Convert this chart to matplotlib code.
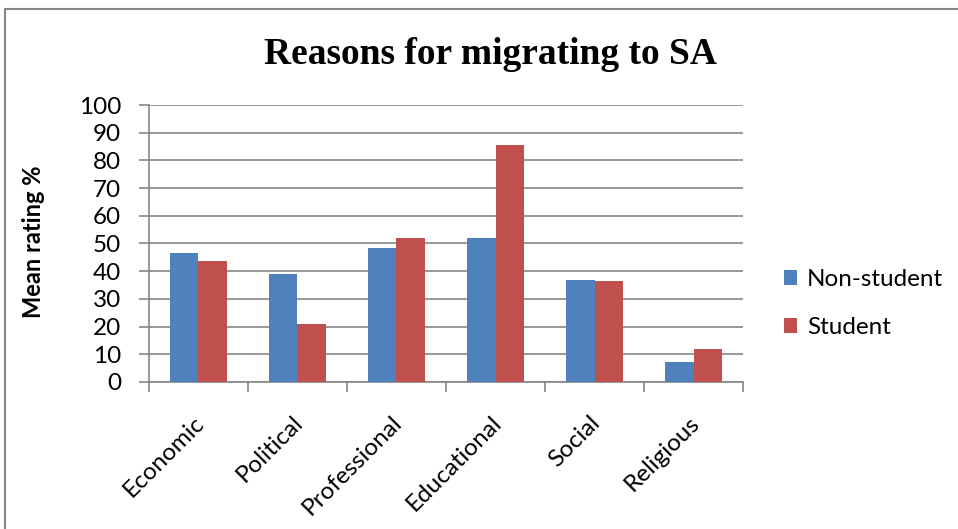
import numpy as np
import matplotlib.pyplot as plt
from matplotlib.patches import Rectangle
from matplotlib.transforms import ScaledTranslation

# =========================================================
# DATA
# =========================================================
categories = ["Economic", "Political", "Professional", "Educational", "Social", "Religious"]
non_student = [46.5, 39.1, 48.2, 51.9, 36.9, 7.3]
student = [43.7, 20.9, 52.0, 85.7, 36.4, 11.9]

BLUE = "#4F81BD"
RED = "#C0504D"
GRID = "#868686"
FONT = ["Lato", "DejaVu Sans"]
FS = 17.5

# =========================================================
# FIGURE
# =========================================================
fig = plt.figure(figsize=(9.58, 5.29), dpi=100)
ax = fig.add_axes([0.1555, 0.2779, 0.6201, 0.5236])

x = np.arange(len(categories))
bar_w = 1 / 3.5

ax.bar(x - bar_w / 2, non_student, width=bar_w, color=BLUE, label="Non-student", zorder=3)
ax.bar(x + bar_w / 2, student, width=bar_w, color=RED, label="Student", zorder=3)

ax.set_xlim(-0.5, len(categories) - 0.5)
ax.set_ylim(0, 100)
ax.set_yticks(np.arange(0, 101, 10))
ax.yaxis.grid(True, color=GRID, linewidth=1.2, zorder=0)

# tick marks sit on the category boundaries
ax.set_xticks(np.arange(-0.5, len(categories), 1.0))
ax.set_xticklabels([])
ax.tick_params(axis="x", direction="out", length=7, color=GRID, width=1.2)

# rotated category names, right end near each category centre
shift = ScaledTranslation(-5 / 100, -30 / 100, fig.dpi_scale_trans)
for xi, name in zip(x, categories):
    ax.text(xi, 0, name, transform=ax.get_xaxis_transform() + shift,
            rotation=45, rotation_mode="anchor", ha="right", va="top",
            fontsize=FS, family=FONT)

ax.tick_params(axis="y", direction="out", length=7, color=GRID, width=1.2,
               labelsize=FS, pad=13)
for lab in ax.get_yticklabels():
    lab.set_family(FONT)

for side in ["top", "right"]:
    ax.spines[side].set_visible(False)
for side in ["left", "bottom"]:
    ax.spines[side].set_color(GRID)
    ax.spines[side].set_linewidth(1.2)

fig.text(34 / 958, 1 - 242 / 529, "Mean rating %", rotation=90, ha="center", va="center",
         fontsize=17, fontweight="bold", family=FONT)

fig.text(490 / 958, 1 - 54 / 529, "Reasons for migrating to SA", ha="center", va="center",
         fontsize=27, fontweight="bold", family="Liberation Serif")

ax.legend(loc="center left", bbox_to_anchor=(784 / 958, 1 - 303.5 / 529),
          bbox_transform=fig.transFigure, frameon=False, borderpad=0, borderaxespad=0,
          prop={"family": FONT, "size": FS}, handlelength=0.55, handleheight=0.55,
          labelspacing=1.1, handletextpad=0.4)

# chart area border
fig.patches.append(Rectangle((5 / 958, -0.1), 1.2, 1.1 - 9 / 529, transform=fig.transFigure,
                             fill=False, edgecolor="#868686", linewidth=1.5))

fig.savefig("out.png", dpi=100)
